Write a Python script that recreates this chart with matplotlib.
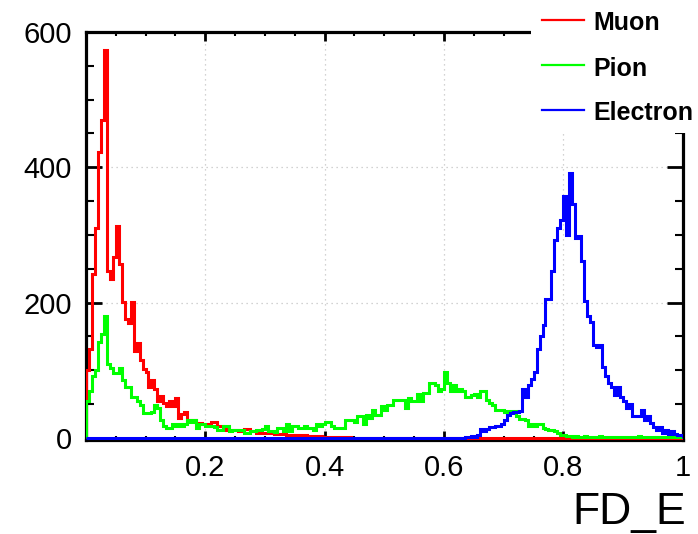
import matplotlib
matplotlib.use("Agg")
import matplotlib.pyplot as plt
import numpy as np
from matplotlib.lines import Line2D
from matplotlib.patches import Rectangle
from matplotlib.ticker import MultipleLocator, FuncFormatter

plt.rcParams['font.family'] = ['Liberation Sans', 'DejaVu Sans']

# Histogram binning: 200 bins over FD_E in [0, 1]
n_bins = 200
x_lo, x_hi = 0.0, 1.0

series_names = ["Muon", "Pion", "Electron"]
series_colors = ["#ff0000", "#00ff00", "#0000ff"]

muon = [
    100, 132, 243, 310, 422, 470, 573, 247, 235, 268, 313, 257, 201, 176, 170, 201, 129, 140, 115, 102,
    98, 76, 86, 73, 54, 62, 52, 47, 54, 47, 59, 30, 35, 39, 25, 27, 27, 22, 22, 20,
    20, 20, 24, 24, 17, 17, 15, 12, 12, 12, 12, 11, 11, 13, 13, 10, 10, 8, 8, 8,
    7, 7, 7, 6, 6, 6, 6, 5, 5, 5, 4, 4, 4, 4, 3, 3, 3, 3, 3, 2,
    2, 2, 2, 2, 1, 2, 1, 1, 1, 0, 0, 0, 0, 0, 0, 0, 0, 0, 0, 0,
    0, 0, 0, 0, 0, 0, 0, 0, 0, 0, 0, 0, 0, 0, 0, 0, 0, 0, 0, 0,
    0, 0, 0, 0, 0, 0, 0, 0, 0, 0, 0, 0, 0, 0, 0, 0, 0, 0, 0, 0,
    0, 0, 0, 0, 0, 0, 0, 0, 0, 0, 0, 0, 0, 0, 0, 0, 0, 0, 0, 0,
    0, 0, 0, 0, 0, 0, 0, 0, 0, 0, 0, 0, 0, 0, 0, 0, 0, 0, 0, 0,
    0, 0, 0, 0, 0, 0, 0, 0, 0, 0, 0, 0, 0, 0, 0, 0, 0, 0, 0, 0,
]

pion = [
    55, 69, 91, 100, 142, 154, 181, 110, 103, 96, 96, 103, 86, 76, 76, 61, 61, 54, 49, 37,
    37, 37, 39, 49, 44, 27, 17, 15, 15, 20, 17, 20, 17, 20, 26, 24, 27, 15, 20, 20,
    17, 17, 17, 16, 12, 12, 17, 17, 10, 12, 12, 12, 12, 7, 7, 11, 11, 12, 12, 13,
    17, 11, 11, 9, 14, 14, 10, 20, 10, 17, 17, 15, 15, 17, 15, 15, 12, 20, 18, 20,
    24, 24, 17, 15, 15, 15, 15, 27, 27, 27, 24, 33, 33, 20, 34, 29, 42, 34, 34, 47,
    42, 49, 49, 56, 56, 56, 56, 44, 59, 54, 54, 65, 54, 66, 66, 81, 81, 78, 69, 73,
    97, 81, 69, 78, 69, 73, 70, 61, 60, 63, 65, 60, 69, 69, 56, 51, 49, 42, 42, 42,
    39, 40, 40, 40, 32, 28, 28, 27, 17, 20, 17, 20, 20, 15, 13, 12, 12, 10, 7, 5,
    4, 3, 3, 2, 3, 2, 2, 3, 2, 2, 2, 2, 3, 2, 2, 2, 2, 2, 2, 2,
    2, 2, 2, 2, 2, 3, 2, 2, 2, 2, 2, 2, 2, 2, 2, 2, 2, 2, 2, 2,
]

electron = [
    0, 0, 0, 0, 0, 0, 0, 0, 0, 0, 0, 0, 0, 0, 0, 0, 0, 0, 0, 0,
    0, 0, 0, 0, 0, 0, 0, 0, 0, 0, 0, 0, 0, 0, 0, 0, 0, 0, 0, 0,
    0, 0, 0, 0, 0, 0, 0, 0, 0, 0, 0, 0, 0, 0, 0, 0, 0, 0, 0, 0,
    0, 0, 0, 0, 0, 0, 0, 0, 0, 0, 0, 0, 0, 0, 0, 0, 0, 0, 0, 0,
    0, 0, 0, 0, 0, 0, 0, 0, 0, 0, 0, 0, 0, 0, 0, 0, 0, 0, 0, 0,
    0, 0, 0, 0, 0, 0, 0, 0, 0, 0, 0, 0, 0, 0, 0, 0, 0, 0, 0, 0,
    0, 0, 0, 0, 0, 0, 0, 1, 2, 3, 1, 5, 13, 11, 13, 16, 16, 17, 17, 20,
    27, 34, 37, 38, 39, 40, 72, 60, 79, 87, 98, 132, 150, 167, 205, 206, 247, 293, 310, 322,
    358, 300, 391, 346, 295, 298, 262, 203, 180, 172, 138, 135, 138, 105, 92, 81, 75, 63, 75, 61,
    54, 44, 50, 33, 32, 32, 42, 27, 33, 22, 16, 12, 16, 7, 12, 6, 10, 6, 5, 4,
]

y_ticks = [0, 200, 400, 600]
x_tick_labels = {0.2: "0.2", 0.4: "0.4", 0.6: "0.6", 0.8: "0.8", 1.0: "1"}

W, H = 698, 534
fig = plt.figure(figsize=(W / 100, H / 100), dpi=100)
ax_left, ax_right, ax_bottom, ax_top = 85.8, 682.8, 440, 32
ax = fig.add_axes([ax_left / W, 1 - ax_bottom / H,
                   (ax_right - ax_left) / W, (ax_bottom - ax_top) / H])

edges = np.linspace(x_lo, x_hi, n_bins + 1)
for vals, col in zip([muon, pion, electron], series_colors):
    ax.stairs(vals, edges, baseline=0, color=col, linewidth=2.2, zorder=3)

# small margin below zero so empty bins sit just above the frame line
ax.set_xlim(x_lo, x_hi)
ax.set_ylim(y_ticks[0] - 3, y_ticks[-1])

ax.xaxis.set_major_locator(MultipleLocator(0.2))
ax.xaxis.set_minor_locator(MultipleLocator(0.05))
ax.yaxis.set_major_locator(MultipleLocator(200))
ax.yaxis.set_minor_locator(MultipleLocator(50))


def fmt_x(v, _pos):
    for k, s in x_tick_labels.items():
        if abs(v - k) < 1e-6:
            return s
    return ""


ax.xaxis.set_major_formatter(FuncFormatter(fmt_x))
ax.yaxis.set_major_formatter(FuncFormatter(lambda v, _p: f"{v:.0f}"))

ax.tick_params(which="both", direction="in", top=True, right=True,
               labelsize=21, color="black")
ax.tick_params(axis="y", which="major", length=11.5, width=2.0, pad=10)
ax.tick_params(axis="y", which="minor", length=5.8, width=1.5)
ax.tick_params(axis="x", which="major", length=6.5, width=2.0, pad=10)
ax.tick_params(axis="x", which="minor", length=3.0, width=1.5)

ax.grid(which="major", color="#c4c4c4", linestyle=(0, (1, 3)), linewidth=0.9)
ax.set_axisbelow(True)

for side, sp in ax.spines.items():
    sp.set_linewidth(2.3)
    sp.set_zorder(2.5)

ax.set_xlabel("FD_E", fontsize=32)
ax.xaxis.label.set_ha("right")
ax.xaxis.label.set_va("baseline")
ax.xaxis.set_label_coords((686 - ax_left) / (ax_right - ax_left),
                          -(524 - ax_bottom) / (ax_bottom - ax_top))

# Legend panel (white box over the upper-right corner of the frame)
fig.add_artist(Rectangle((531 / W, 1 - 133 / H), (W - 531) / W, 133 / H,
                         transform=fig.transFigure, facecolor="white",
                         edgecolor="none", zorder=5))
legend_baselines = [30.5, 75.5, 120.5]
for name, col, yb in zip(series_names, series_colors, legend_baselines):
    yl = yb - 11
    fig.add_artist(Line2D([542 / W, 584 / W], [1 - yl / H, 1 - yl / H],
                          transform=fig.transFigure, color=col,
                          linewidth=1.6, zorder=6))
    fig.text(593 / W, 1 - yb / H, name, ha="left", va="baseline",
             fontsize=18, fontweight="bold", color="black", zorder=6)

fig.savefig("out.png", dpi=100)
